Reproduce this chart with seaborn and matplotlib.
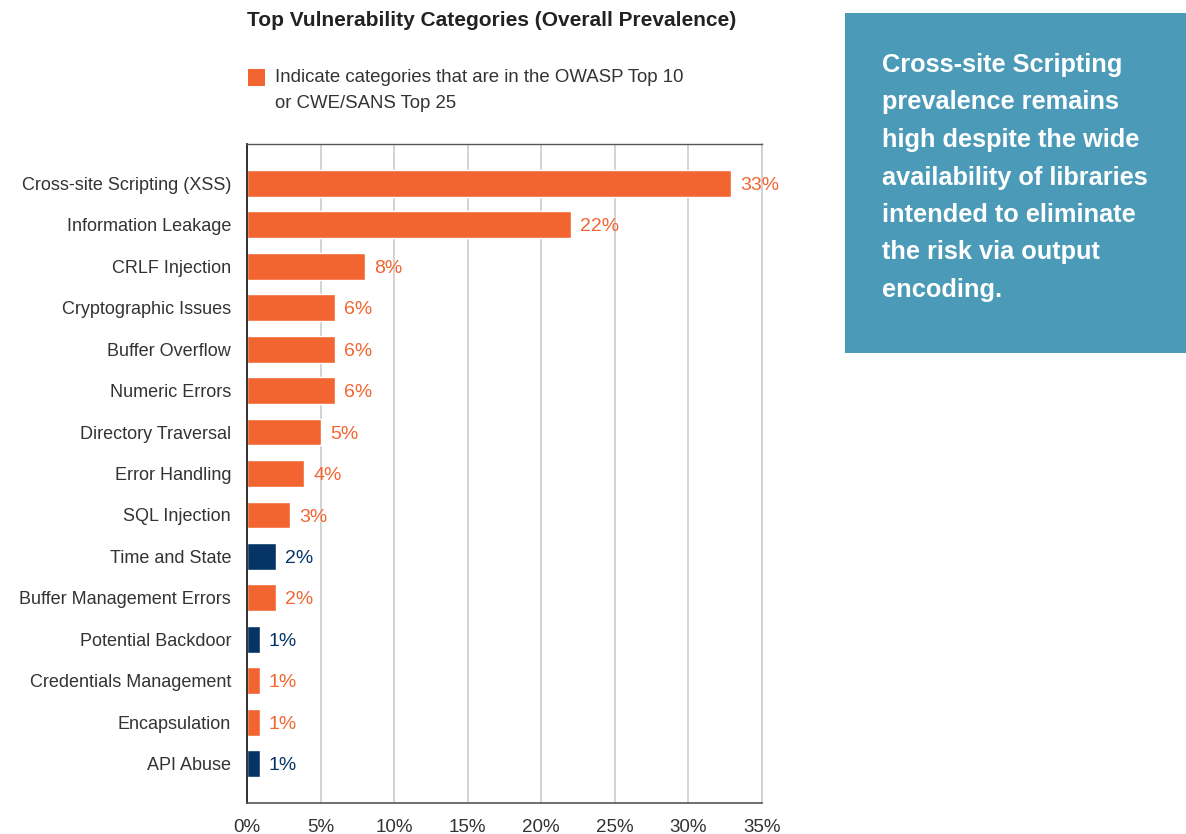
import matplotlib
matplotlib.use("Agg")
import matplotlib.pyplot as plt
import matplotlib.patches as mpatches
import seaborn as sns
import pandas as pd

categories = [
    "Cross-site Scripting (XSS)", "Information Leakage", "CRLF Injection",
    "Cryptographic Issues", "Buffer Overflow", "Numeric Errors",
    "Directory Traversal", "Error Handling", "SQL Injection",
    "Time and State", "Buffer Management Errors", "Potential Backdoor",
    "Credentials Management", "Encapsulation", "API Abuse",
]
values = [32.9, 22.0, 8.05, 6.0, 6.0, 6.0, 5.05, 3.9, 2.95, 2.0, 2.0, 0.88, 0.88, 0.88, 0.88]
value_labels = ["33%", "22%", "8%", "6%", "6%", "6%", "5%", "4%", "3%", "2%", "2%", "1%", "1%", "1%", "1%"]
in_top_list = [True, True, True, True, True, True, True, True, True, False, True, False, True, True, False]
x_ticks = [0, 5, 10, 15, 20, 25, 30, 35]
x_tick_labels = ["0%", "5%", "10%", "15%", "20%", "25%", "30%", "35%"]
callout_lines = ["Cross-site Scripting", "prevalence remains", "high despite the wide",
                 "availability of libraries", "intended to eliminate",
                 "the risk via output", "encoding."]

ORANGE = "#F26531"
NAVY = "#063466"
TEAL = "#4B9BB8"
TEXT = "#333333"

sns.set_theme(style="white")
plt.rcParams["font.family"] = ["Liberation Sans", "DejaVu Sans"]

df = pd.DataFrame({
    "category": categories,
    "value": values,
    "group": ["top" if t else "other" for t in in_top_list],
})

W, H = 1186, 834
fig = plt.figure(figsize=(W / 100, H / 100), dpi=100)
ax = fig.add_axes([247 / W, 1 - 803 / H, (762 - 247) / W, (803 - 144) / H])

sns.barplot(data=df, x="value", y="category", hue="group",
            palette={"top": ORANGE, "other": NAVY}, dodge=False,
            width=0.645, legend=False, ax=ax, saturation=1)

ax.set_xlim(0, 35)
ax.set_ylim(14.95, -0.95)
ax.set_xticks(x_ticks)
ax.set_xticklabels(x_tick_labels, fontsize=13.5, color=TEXT)
ax.tick_params(axis="x", length=0, pad=11.5)
ax.tick_params(axis="y", length=0, pad=11.5, labelsize=13, labelcolor=TEXT)
ax.set_xlabel("")
ax.set_ylabel("")
ax.xaxis.grid(True, color="#D0D0D0", linewidth=1.3)
ax.set_axisbelow(True)

ax.spines["left"].set_color("#222222")
ax.spines["left"].set_linewidth(1.3)
ax.spines["bottom"].set_color("#555555")
ax.spines["bottom"].set_linewidth(1.2)
ax.spines["top"].set_color("#555555")
ax.spines["top"].set_linewidth(1.0)
ax.spines["right"].set_color("#D0D0D0")
ax.spines["right"].set_linewidth(1.3)

for i, (v, lab, top) in enumerate(zip(values, value_labels, in_top_list)):
    ax.annotate(lab, xy=(v, i), xytext=(6.5, -1.5), textcoords="offset points",
                va="center", ha="left", fontsize=14,
                color=ORANGE if top else NAVY)

fig.text(247 / W, 1 - 21 / H, "Top Vulnerability Categories (Overall Prevalence)",
         fontsize=15, fontweight="bold", color="#222222", ha="left", va="center")

fig.patches.append(mpatches.Rectangle((248 / W, 1 - 86 / H), 17 / W, 17 / H,
                                      transform=fig.transFigure, facecolor=ORANGE,
                                      edgecolor="none"))
fig.text(275 / W, 1 - 78 / H, "Indicate categories that are in the OWASP Top 10",
         fontsize=13.4, color=TEXT, ha="left", va="center")
fig.text(275 / W, 1 - 104 / H, "or CWE/SANS Top 25",
         fontsize=13.4, color=TEXT, ha="left", va="center")

fig.patches.append(mpatches.Rectangle((845 / W, 1 - 353 / H), (W - 845) / W, (353 - 13) / H,
                                      transform=fig.transFigure, facecolor=TEAL,
                                      edgecolor="none"))
for k, line in enumerate(callout_lines):
    fig.text(882 / W, 1 - (72 + 37.5 * k) / H, line, fontsize=18.3, fontweight="bold",
             color="white", ha="left", va="baseline")

fig.savefig("out.png", dpi=100)
